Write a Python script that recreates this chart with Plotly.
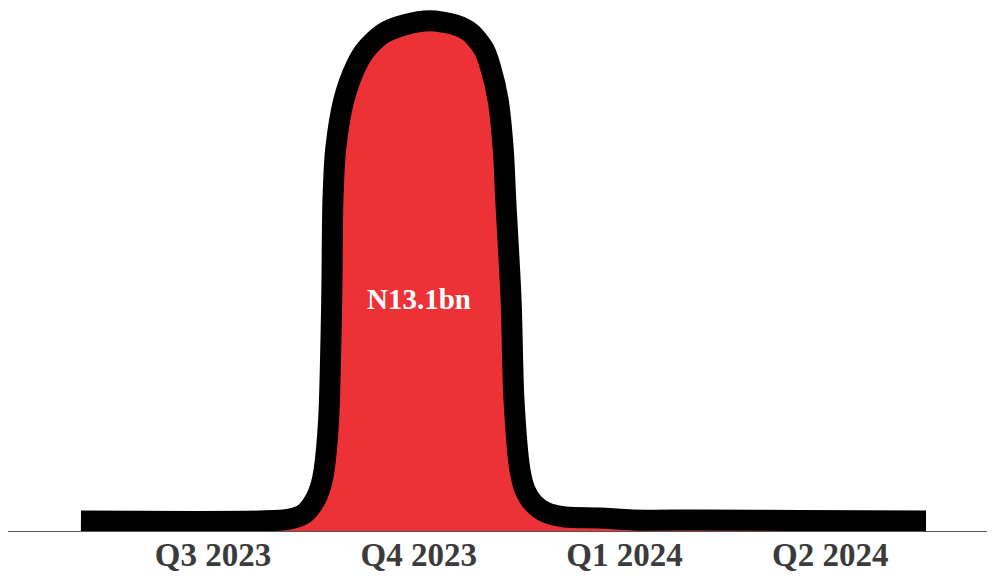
import plotly.graph_objects as go

# Categories and values (N bn)
categories = ["Q3 2023", "Q4 2023", "Q1 2024", "Q2 2024"]
category_pos = [0, 1, 2, 3]
values = [0.26, 13.1, 0.28, 0.27]
peak_label = "N13.1bn"

# Outline of the drawn curve (x in category units, y in N bn)
curve_x = [-0.642, -0.097, 0.228, 0.374, 0.447, 0.496, 0.525, 0.540, 0.562, 0.577,
           0.583, 0.596, 0.636, 0.694, 0.743, 0.831, 0.933, 1.055, 1.176, 1.253,
           1.318, 1.348, 1.386, 1.411, 1.423, 1.449, 1.463, 1.492, 1.517, 1.556,
           1.614, 1.711, 1.881, 2.042, 2.368, 2.854, 3.466]
curve_y = [0.257, 0.244, 0.257, 0.308, 0.462, 0.796, 1.182, 1.567, 2.851, 5.934,
           8.503, 9.787, 11.07, 11.93, 12.36, 12.79, 13.00, 13.10, 13.00, 12.79,
           12.36, 11.93, 11.07, 9.787, 8.503, 5.934, 3.365, 1.567, 1.053, 0.719,
           0.488, 0.360, 0.334, 0.283, 0.283, 0.270, 0.257]

fig = go.Figure()
fig.add_trace(go.Scatter(
    x=curve_x, y=curve_y, mode="lines",
    line=dict(color="#000000", width=21, shape="spline", smoothing=0.8),
    fill="tozeroy", fillcolor="#ED3237",
    hoverinfo="skip", showlegend=False,
))

fig.add_annotation(
    x=category_pos[1], y=5.95, text=peak_label, showarrow=False,
    font=dict(family="Liberation Serif", size=29, color="#FFFFFF", weight="bold"),
)

fig.update_layout(
    width=995, height=586,
    margin=dict(l=0, r=13, t=0, b=63),
    paper_bgcolor="#FFFFFF", plot_bgcolor="#FFFFFF",
    xaxis=dict(
        range=[-0.9966, 3.777], tickvals=category_pos, ticktext=categories,
        showgrid=False, zeroline=False, showline=True, linecolor="#555555", linewidth=1,
        ticks="", ticklabelstandoff=-6,
        tickfont=dict(family="Liberation Serif", size=33, color="#3b3b3b", weight="bold"),
    ),
    yaxis=dict(range=[0, 13.43], visible=False, showgrid=False, zeroline=False),
)

fig.write_html("out.html")
